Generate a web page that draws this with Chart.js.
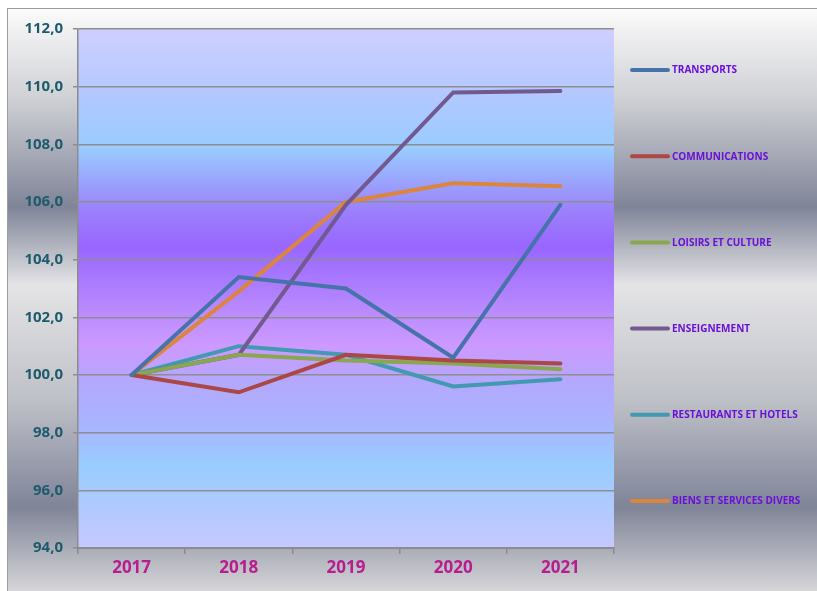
<!DOCTYPE html>
<html>
<head>
<meta charset="utf-8">
<script src="https://cdn.jsdelivr.net/npm/chart.js@4/dist/chart.umd.min.js"></script>
<style>
    body { margin: 0; background: #ffffff; }
    #wrap { position: relative; width: 817px; height: 591px; overflow: hidden; }
    #frame {
        position: absolute; left: 7px; top: 8px; width: 830px; height: 600px;
        border-left: 1px solid #9c9c9c; border-top: 1px solid #9c9c9c;
        background: linear-gradient(to bottom,
            #fbfbfb 0%, #cfd0d5 15%, #7f8498 33%, #e4e4e6 46%,
            #bfc1c8 65%, #7f8498 83%, #d6d6d8 97%);
    }
    #chart { position: absolute; left: 0; top: 0; }
</style>
</head>
<body>
<div id="wrap">
    <div id="frame"></div>
    <canvas id="chart" width="817" height="591"></canvas>
</div>
<script>
const years = ['2017', '2018', '2019', '2020', '2021'];
const yTicks = [94, 96, 98, 100, 102, 104, 106, 108, 110, 112];

const transports = [100, 103.4, 103.0, 100.6, 105.9];
const communications = [100, 99.4, 100.7, 100.5, 100.4];
const loisirs = [100, 100.7, 100.5, 100.4, 100.2];
const enseignement = [100, 100.7, 105.9, 109.8, 109.85];
const restaurants = [100, 101.0, 100.7, 99.6, 99.85];
const biens = [100, 102.9, 106.0, 106.65, 106.55];

const seriesNames = ['TRANSPORTS', 'COMMUNICATIONS', 'LOISIRS ET CULTURE', 'ENSEIGNEMENT', 'RESTAURANTS ET HOTELS', 'BIENS ET SERVICES DIVERS'];
const seriesData = [transports, communications, loisirs, enseignement, restaurants, biens];
const seriesColors = ['#4673a9', '#ab4744', '#8aa64f', '#725990', '#4299b0', '#dc853e'];

// plot area gradient
const plotBackground = {
    id: 'plotBackground',
    beforeDraw(chart) {
        const { ctx, chartArea } = chart;
        const g = ctx.createLinearGradient(0, chartArea.top, 0, chartArea.bottom);
        g.addColorStop(0, '#cfcfff');
        g.addColorStop(0.12, '#b4c8ff');
        g.addColorStop(0.23, '#99ccff');
        g.addColorStop(0.35, '#9b80fb');
        g.addColorStop(0.42, '#9966ff');
        g.addColorStop(0.55, '#bb8dfd');
        g.addColorStop(0.61, '#cc99ff');
        g.addColorStop(0.68, '#b3a8fd');
        g.addColorStop(0.76, '#aab4ff');
        g.addColorStop(0.84, '#99ccff');
        g.addColorStop(1, '#c6c8ff');
        ctx.save();
        ctx.fillStyle = g;
        ctx.fillRect(chartArea.left, chartArea.top, chartArea.right - chartArea.left, chartArea.bottom - chartArea.top);
        ctx.restore();
    }
};

// legend on the right, items spread down the side
const sideLegend = {
    id: 'sideLegend',
    afterDraw(chart) {
        const { ctx } = chart;
        const x0 = 632, x1 = 668, top = 70, step = 86.2;
        ctx.save();
        chart.data.datasets.forEach((ds, i) => {
            const y = top + i * step;
            ctx.strokeStyle = ds.borderColor;
            ctx.lineWidth = 4;
            ctx.lineCap = 'round';
            ctx.beginPath();
            ctx.moveTo(x0, y);
            ctx.lineTo(x1, y);
            ctx.stroke();
            ctx.fillStyle = '#6a10d8';
            ctx.font = 'bold 10px "Open Sans"';
            ctx.textBaseline = 'middle';
            ctx.fillText(ds.label, x1 + 4, y + 0.5);
        });
        ctx.restore();
    }
};

new Chart(document.getElementById('chart'), {
    type: 'line',
    data: {
        labels: years,
        datasets: seriesNames.map((name, i) => ({
            label: name,
            data: seriesData[i],
            borderColor: seriesColors[i],
            backgroundColor: seriesColors[i],
            borderWidth: 4,
            borderCapStyle: 'round',
            pointRadius: 0,
            tension: 0,
            fill: false
        }))
    },
    options: {
        responsive: false,
        animation: false,
        layout: { padding: { left: 0, top: 29, right: 203, bottom: 0 } },
        plugins: {
            legend: { display: false },
            tooltip: { enabled: false }
        },
        scales: {
            x: {
                offset: true,
                afterFit: (scale) => { scale.height = 43; },
                grid: { drawOnChartArea: false, offset: true, color: '#8c8c8c', lineWidth: 1.5, tickLength: 6 },
                border: { color: '#8c8c8c', width: 2 },
                ticks: {
                    color: '#b81d8f',
                    font: { family: 'Open Sans', weight: 'bold', size: 17 },
                    padding: 4
                }
            },
            y: {
                min: 94,
                max: 112,
                afterFit: (scale) => { scale.width = 78; },
                afterBuildTicks: (scale) => { scale.ticks = yTicks.map(v => ({ value: v })); },
                grid: { color: '#8e8e8e', lineWidth: 1.5, tickLength: 5 },
                border: { color: '#8c8c8c', width: 1.5 },
                ticks: {
                    color: '#1d5b6c',
                    font: { family: 'Open Sans', weight: 'bold', size: 15 },
                    padding: 10,
                    callback: (v) => v.toFixed(1).replace('.', ',')
                }
            }
        }
    },
    plugins: [plotBackground, sideLegend]
});
</script>
</body>
</html>
